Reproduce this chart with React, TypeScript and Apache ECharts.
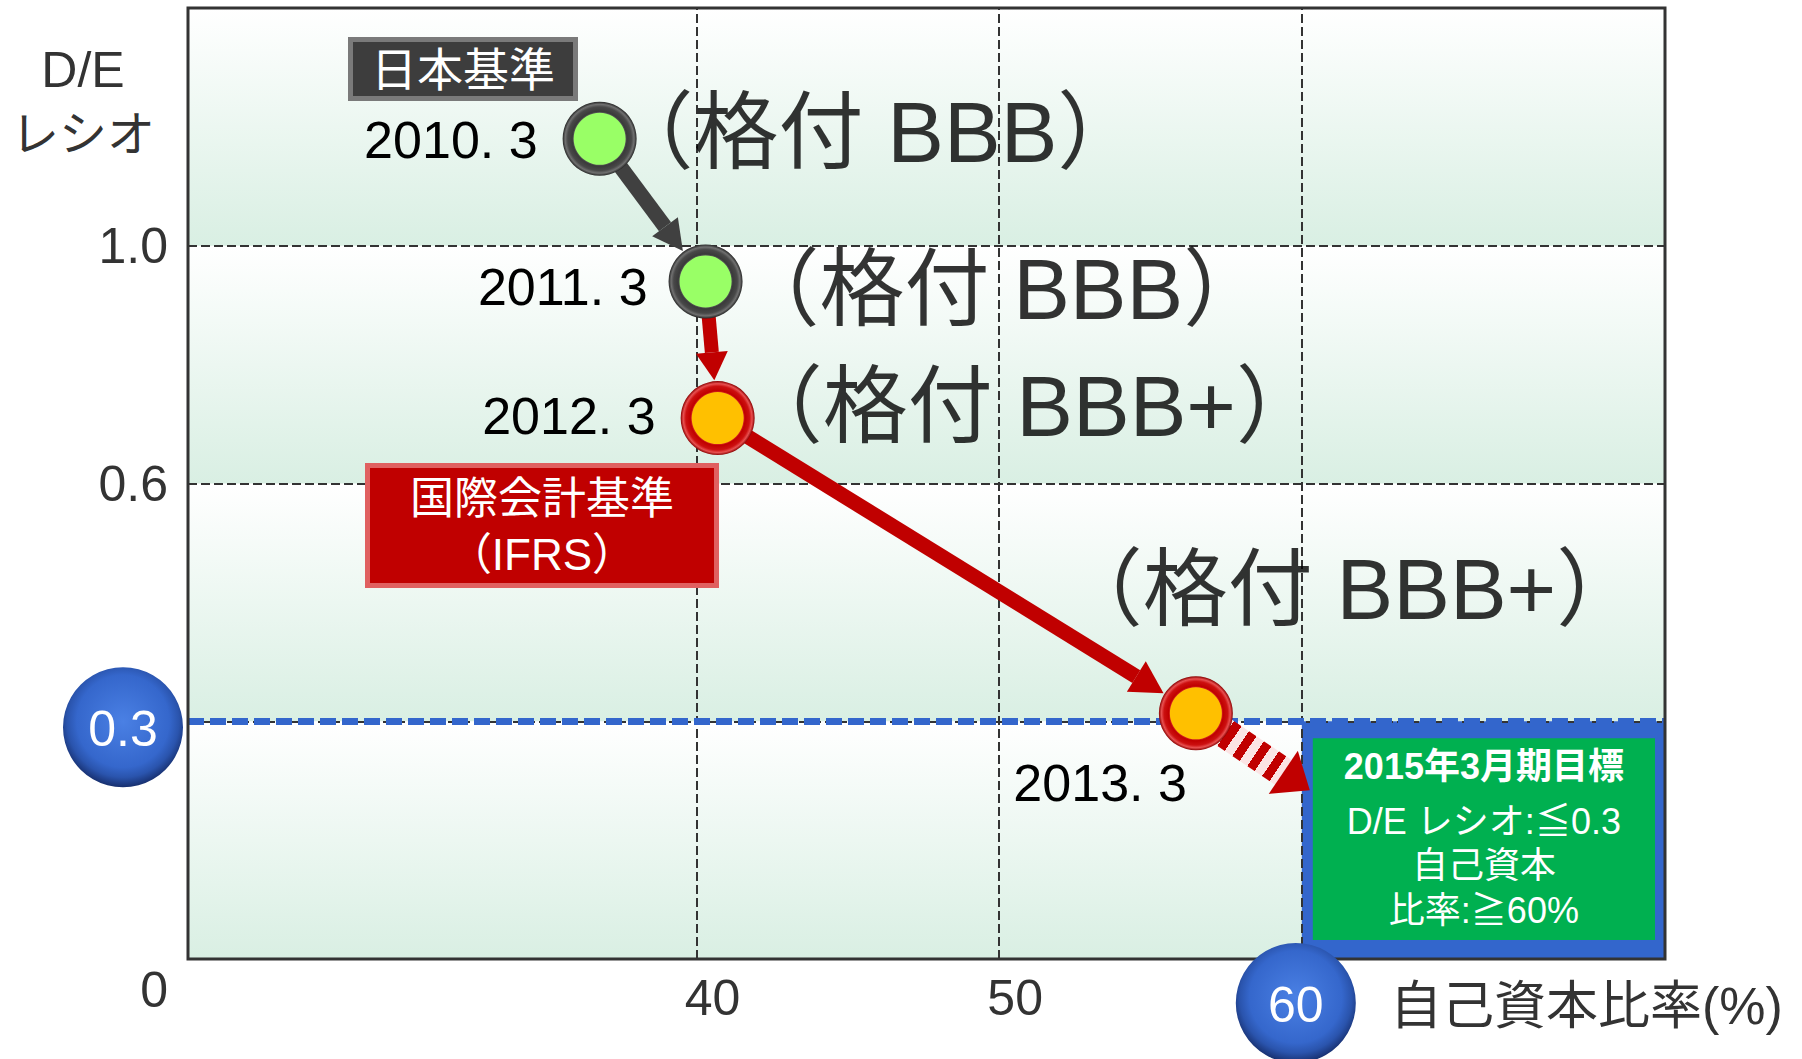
import React, { useEffect, useRef } from 'react';
import * as echarts from 'echarts';

// ---------- data ----------
const periods = ['2010. 3', '2011. 3', '2012. 3', '2013. 3'];
const equityRatio = [36.8, 40.3, 40.7, 56.5]; // 自己資本比率 (%)
const deRatio = [1.18, 0.94, 0.71, 0.31]; // D/E レシオ
const ratings = ['（格付 BBB）', '（格付 BBB）', '（格付 BBB+）', '（格付 BBB+）'];
const standards = ['JGAAP', 'JGAAP', 'IFRS', 'IFRS'];
const yBreaks = [0, 0.3, 0.6, 1.0, 1.4]; // schematic (broken) D/E axis
const xRange = [23.2, 72];
const xGridValues = [40, 50, 60];
const targetDE = 0.3;
const targetEquity = 60;
const targetLines = ['2015年3月期目標', 'D/E レシオ:≦0.3', '自己資本', '比率:≧60%'];
const xAxisName = '自己資本比率(%)';
const yAxisName = ['D/E', 'レシオ'];
const jgaapLabel = '日本基準';
const ifrsLabel = ['国際会計基準', '（IFRS）'];

// ---------- layout ----------
const FONT = "'Liberation Sans', 'Noto Sans CJK JP', sans-serif";
const yearLabelOffsets = [[-62, 1], [-58, 6], [-62, -2], [-9, 70]];
const ratingLabelOffsets = [[9, -6], [29, 8], [20, -12], [-138, -124]];

function toPos(v: number): number {
  for (let i = 0; i < yBreaks.length - 1; i++) {
    if (v <= yBreaks[i + 1]) return i + (v - yBreaks[i]) / (yBreaks[i + 1] - yBreaks[i]);
  }
  return yBreaks.length - 1;
}

const bandGradient = {
  type: 'linear', x: 0, y: 0, x2: 0, y2: 1,
  colorStops: [{ offset: 0, color: '#ffffff' }, { offset: 1, color: '#d9efe3' }],
};
const grayRing = {
  type: 'radial', x: 0.5, y: 0.5, r: 0.5,
  colorStops: [
    { offset: 0, color: '#8a8a8a' }, { offset: 0.68, color: '#6a6a6a' },
    { offset: 0.74, color: '#3a3a3a' }, { offset: 0.86, color: '#484848' },
    { offset: 0.93, color: '#707070' }, { offset: 1, color: '#262626' },
  ],
};
const redRing = {
  type: 'radial', x: 0.5, y: 0.5, r: 0.5,
  colorStops: [
    { offset: 0, color: '#ff8888' }, { offset: 0.68, color: '#e03a3a' },
    { offset: 0.74, color: '#c00000' }, { offset: 0.86, color: '#cc1010' },
    { offset: 0.93, color: '#e85050' }, { offset: 1, color: '#8a0000' },
  ],
};

function arrowPoints(p0: number[], p1: number[], w: number, hw: number, hl: number) {
  const dx = p1[0] - p0[0], dy = p1[1] - p0[1];
  const L = Math.hypot(dx, dy);
  const ux = dx / L, uy = dy / L;
  const nx = -uy, ny = ux;
  const bx = p1[0] - ux * hl, by = p1[1] - uy * hl;
  return {
    shaft: [
      [p0[0] + nx * w / 2, p0[1] + ny * w / 2],
      [bx + nx * w / 2, by + ny * w / 2],
      [bx - nx * w / 2, by - ny * w / 2],
      [p0[0] - nx * w / 2, p0[1] - ny * w / 2],
    ],
    head: [
      [bx + nx * hw / 2, by + ny * hw / 2],
      [p1[0], p1[1]],
      [bx - nx * hw / 2, by - ny * hw / 2],
    ],
    base: [bx, by],
  };
}

function shorten(a: number[], b: number[], r: number) {
  const dx = b[0] - a[0], dy = b[1] - a[1];
  const L = Math.hypot(dx, dy);
  return [b[0] - dx / L * r, b[1] - dy / L * r];
}

function buildOption() {
  const pts = equityRatio.map((x, i) => [x, toPos(deRatio[i])]);
  return {
    animation: false,
    backgroundColor: '#ffffff',
    grid: { left: 188, right: 137, top: 8, bottom: 100, show: false },
    xAxis: {
      type: 'value', min: xRange[0], max: xRange[1],
      axisLine: { show: false }, axisTick: { show: false },
      axisLabel: { show: false }, splitLine: { show: false },
    },
    yAxis: {
      type: 'value', min: 0, max: yBreaks.length - 1, interval: 1,
      axisLine: { show: false }, axisTick: { show: false }, splitLine: { show: false },
      axisLabel: {
        show: true, showMinLabel: true, showMaxLabel: true, margin: 20,
        fontSize: 50, fontFamily: FONT, color: '#333333',
        formatter: (v: number) => {
          const b = yBreaks[Math.round(v)];
          if (v === 0) return '{o|0}';
          if (v === yBreaks.length - 1 || b === targetDE) return '';
          return b.toFixed(1);
        },
        rich: { o: { fontSize: 50, fontFamily: FONT, color: '#333333', padding: [62, 0, 0, 0] } },
      },
    },
    series: [
      {
        type: 'line', name: 'bands', data: [], z: 1, silent: true,
        markArea: {
          silent: true,
          data: yBreaks.slice(0, -1).map((_, i) => [
            { yAxis: i, itemStyle: { color: bandGradient, opacity: 1 } },
            { yAxis: i + 1 },
          ]),
        },
      },
      {
        type: 'line', name: 'gridlines', data: [], z: 2, silent: true,
        markLine: {
          silent: true, symbol: ['none', 'none'],
          lineStyle: { color: '#333333', width: 2, type: [9, 4] },
          label: {
            show: true, position: 'start', distance: 14, fontSize: 50, fontFamily: FONT,
            color: '#333333', padding: [0, 0, 0, 32], formatter: (p: any) => String(p.value),
          },
          data: [
            ...xGridValues.map((v) => ({ xAxis: v, label: { show: v !== targetEquity } })),
            ...yBreaks.slice(1, -1).map((_, i) => ({ yAxis: i + 1, label: { show: false } })),
          ],
        },
      },
      {
        type: 'line', name: 'target', data: [], z: 3, silent: true,
        markArea: {
          silent: true,
          itemStyle: { color: '#3366cc', opacity: 1 },
          data: [[{ xAxis: targetEquity, yAxis: 0 }, { xAxis: xRange[1], yAxis: toPos(targetDE) }]],
        },
        markLine: {
          silent: true, symbol: ['none', 'none'],
          lineStyle: { color: '#3366cc', width: 7, type: [16, 6] },
          label: { show: false },
          data: [{ yAxis: toPos(targetDE) }],
        },
      },
      {
        type: 'scatter', name: 'ring', z: 10, silent: true, symbolSize: 74,
        data: pts.map((p, i) => ({
          value: p,
          itemStyle: { color: standards[i] === 'IFRS' ? redRing : grayRing, opacity: 1 },
          label: {
            show: true, position: 'inside', align: 'right', verticalAlign: 'middle',
            offset: yearLabelOffsets[i], formatter: periods[i],
            fontSize: 52, fontFamily: FONT, color: '#000000',
          },
        })),
      },
      {
        type: 'scatter', name: 'core', z: 11, silent: true, symbolSize: 52,
        data: pts.map((p, i) => ({
          value: p,
          itemStyle: { color: standards[i] === 'IFRS' ? '#ffc000' : '#99ff66', opacity: 1 },
        })),
      },
      {
        type: 'scatter', name: 'rating', z: 12, silent: true, symbolSize: 74,
        itemStyle: { color: 'transparent' },
        data: pts.map((p, i) => ({
          value: p,
          label: {
            show: true, position: 'inside', align: 'left', verticalAlign: 'middle',
            offset: ratingLabelOffsets[i], formatter: ratings[i],
            fontSize: 85, fontFamily: FONT, color: '#000000',
          },
        })),
      },
    ],
  };
}

function buildGraphics(chart: any) {
  const px = (x: number, v: number) => chart.convertToPixel({ gridIndex: 0 }, [x, toPos(v)]);
  const pos = (x: number, p: number) => chart.convertToPixel({ gridIndex: 0 }, [x, p]);
  const tl = pos(xRange[0], yBreaks.length - 1);
  const br = pos(xRange[1], 0);
  const pts = equityRatio.map((x, i) => px(x, deRatio[i]));
  const corner = px(targetEquity, targetDE);
  const g: any[] = [];

  // plot border
  g.push({
    type: 'rect', z: 7, silent: true,
    shape: { x: tl[0], y: tl[1], width: br[0] - tl[0], height: br[1] - tl[1] },
    style: { fill: 'transparent', stroke: '#333333', lineWidth: 3 },
  });

  // arrows between periods
  const arrowSpecs = [
    { from: 0, to: 1, color: '#404040', w: 15, hw: 32, hl: 30 },
    { from: 1, to: 2, color: '#c00000', w: 14, hw: 32, hl: 28 },
    { from: 2, to: 3, color: '#c00000', w: 15, hw: 36, hl: 32 },
  ];
  arrowSpecs.forEach((s) => {
    const tip = shorten(pts[s.from], pts[s.to], 38);
    const a = arrowPoints(pts[s.from], tip, s.w, s.hw, s.hl);
    g.push({ type: 'polygon', z: 8, silent: true, shape: { points: a.shaft }, style: { fill: s.color } });
    g.push({ type: 'polygon', z: 8, silent: true, shape: { points: a.head }, style: { fill: s.color } });
  });

  // striped arrow towards target box
  const tip4 = [corner[0] + 8, corner[1] + 69];
  const a4 = arrowPoints(pts[3], tip4, 30, 52, 32);
  const L4 = Math.hypot(a4.base[0] - pts[3][0], a4.base[1] - pts[3][1]);
  const stripe = 9;
  const stops: any[] = [];
  const n = Math.ceil(L4 / stripe);
  for (let k = 0; k < n; k++) {
    const c = k % 2 === 0 ? '#c00000' : '#fbe4e4';
    stops.push({ offset: Math.min(1, (k * stripe) / L4), color: c });
    stops.push({ offset: Math.min(1, ((k + 1) * stripe - 0.01) / L4), color: c });
  }
  g.push({
    type: 'polygon', z: 8, silent: true, shape: { points: a4.shaft },
    style: {
      fill: new echarts.graphic.LinearGradient(pts[3][0], pts[3][1], a4.base[0], a4.base[1], stops, true),
    },
  });
  g.push({ type: 'polygon', z: 8, silent: true, shape: { points: a4.head }, style: { fill: '#c00000' } });

  // 日本基準 box
  g.push({ type: 'rect', z: 15, silent: true, shape: { x: 348, y: 37, width: 230, height: 64 }, style: { fill: '#7a7a7a' } });
  g.push({ type: 'rect', z: 15, silent: true, shape: { x: 353, y: 42, width: 220, height: 54 }, style: { fill: '#3d3d3d' } });
  g.push({
    type: 'text', z: 16, silent: true,
    style: { text: jgaapLabel, x: 463, y: 70, fill: '#ffffff', fontSize: 46, fontFamily: FONT, align: 'center', verticalAlign: 'middle' },
  });

  // 国際会計基準 box
  g.push({ type: 'rect', z: 15, silent: true, shape: { x: 365, y: 463, width: 354, height: 125 }, style: { fill: '#e06060' } });
  g.push({ type: 'rect', z: 15, silent: true, shape: { x: 370, y: 468, width: 344, height: 115 }, style: { fill: '#c00000' } });
  g.push({
    type: 'text', z: 16, silent: true,
    style: { text: ifrsLabel[0], x: 542, y: 498, fill: '#ffffff', fontSize: 44, fontFamily: FONT, align: 'center', verticalAlign: 'middle' },
  });
  g.push({
    type: 'text', z: 16, silent: true,
    style: { text: ifrsLabel[1], x: 542, y: 554, fill: '#ffffff', fontSize: 44, fontFamily: FONT, align: 'center', verticalAlign: 'middle' },
  });

  // target green box
  const gx = corner[0] + 11, gy = corner[1] + 17;
  const gw = br[0] - 10 - gx, gh = br[1] - 19 - gy;
  g.push({ type: 'rect', z: 15, silent: true, shape: { x: gx, y: gy, width: gw, height: gh }, style: { fill: '#00b050' } });
  const lineOffsets = [28, 83, 127, 172];
  targetLines.forEach((t, i) => {
    g.push({
      type: 'text', z: 16, silent: true,
      style: {
        text: t, x: gx + gw / 2, y: gy + lineOffsets[i], fill: '#ffffff', fontSize: 36,
        fontWeight: i === 0 ? 'bold' : 'normal', fontFamily: FONT, align: 'center', verticalAlign: 'middle',
      },
    });
  });

  // blue circles for target values
  const circleFill = {
    type: 'radial', x: 0.5, y: 0.45, r: 0.55,
    colorStops: [
      { offset: 0, color: '#4a80e4' }, { offset: 0.7, color: '#3567cc' },
      { offset: 0.85, color: '#2a54ad' }, { offset: 1, color: '#172f6e' },
    ],
  };
  const c03 = [tl[0] - 65, corner[1] + 6];
  const c60 = [corner[0] - 6, br[1] + 44];
  [[c03, String(targetDE)], [c60, String(targetEquity)]].forEach(([c, t]: any) => {
    g.push({ type: 'circle', z: 17, silent: true, shape: { cx: c[0], cy: c[1], r: 60 }, style: { fill: circleFill } });
    g.push({
      type: 'text', z: 18, silent: true,
      style: { text: t, x: c[0], y: c[1] + 2, fill: '#ffffff', fontSize: 50, fontFamily: FONT, align: 'center', verticalAlign: 'middle' },
    });
  });

  // axis names
  g.push({
    type: 'text', z: 16, silent: true,
    style: { text: xAxisName, x: 1390, y: 1006, fill: '#333333', fontSize: 52, fontFamily: FONT, align: 'left', verticalAlign: 'middle' },
  });
  g.push({
    type: 'text', z: 16, silent: true,
    style: { text: yAxisName[0], x: 83, y: 70, fill: '#333333', fontSize: 50, fontFamily: FONT, align: 'center', verticalAlign: 'middle' },
  });
  g.push({
    type: 'text', z: 16, silent: true,
    style: { text: yAxisName[1], x: 83, y: 134, fill: '#333333', fontSize: 48, fontFamily: FONT, align: 'center', verticalAlign: 'middle' },
  });

  return g;
}

export default function App() {
  const ref = useRef<HTMLDivElement>(null);
  useEffect(() => {
    document.body.style.margin = '0';
    document.body.style.overflow = 'hidden';
    const chart = echarts.init(ref.current as HTMLDivElement, null, { renderer: 'svg' });
    chart.setOption(buildOption() as any);
    chart.setOption({ graphic: buildGraphics(chart) } as any);
    return () => chart.dispose();
  }, []);
  return <div ref={ref} style={{ position: 'absolute', left: 0, top: 0, width: 1802, height: 1059 }} />;
}
